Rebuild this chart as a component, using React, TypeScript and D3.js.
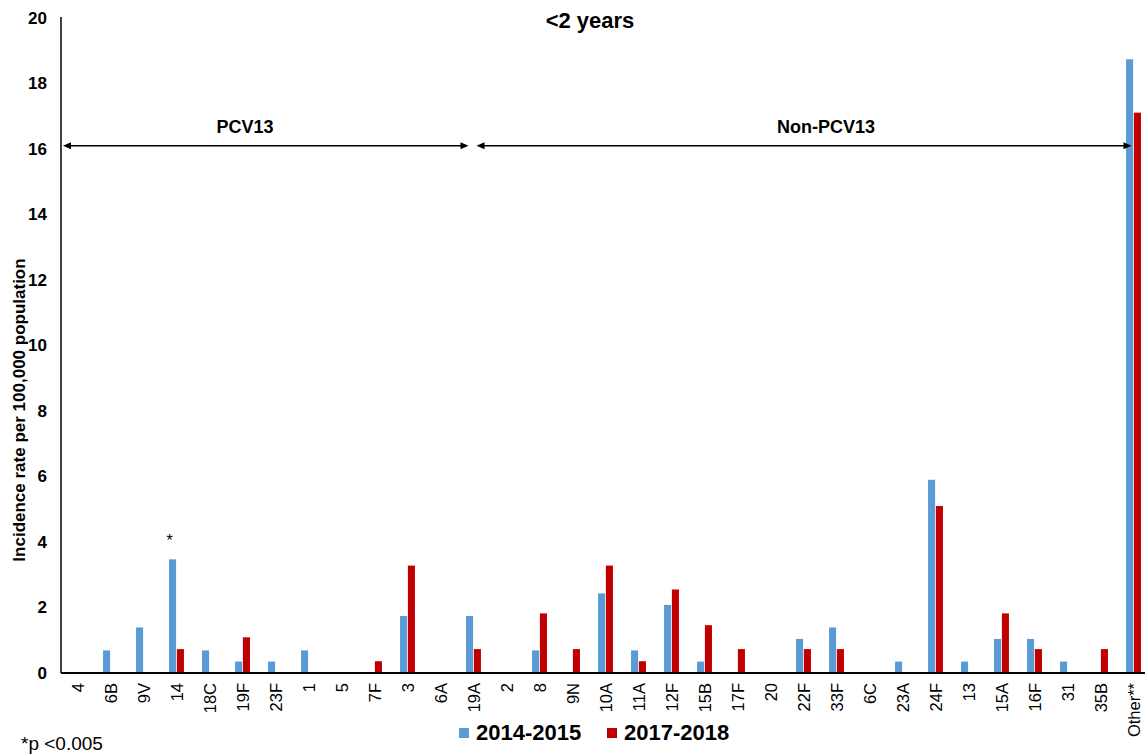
import React from "react"
import * as d3 from "d3"

// serotypes, in chart order
const categories = ["4", "6B", "9V", "14", "18C", "19F", "23F", "1", "5", "7F", "3", "6A", "19A",
    "2", "8", "9N", "10A", "11A", "12F", "15B", "17F", "20", "22F", "33F", "6C", "23A", "24F",
    "13", "15A", "16F", "31", "35B", "Other**"]
const rate2014 = [0, 0.69, 1.39, 3.47, 0.69, 0.35, 0.35, 0.69, 0, 0, 1.74, 0, 1.74,
    0, 0.69, 0, 2.43, 0.69, 2.08, 0.35, 0, 0, 1.04, 1.39, 0, 0.35, 5.9,
    0.35, 1.04, 1.04, 0.35, 0, 18.74]
const rate2017 = [0, 0, 0, 0.73, 0, 1.09, 0, 0, 0, 0.36, 3.28, 0, 0.73,
    0, 1.82, 0.73, 3.28, 0.36, 2.55, 1.46, 0.73, 0, 0.73, 0.73, 0, 0, 5.1,
    0, 1.82, 0.73, 0, 0.73, 17.11]
const seriesNames = ["2014-2015", "2017-2018"]
const seriesColors = ["#5B9BD5", "#C00000"]
const yTicks = [0, 2, 4, 6, 8, 10, 12, 14, 16, 18, 20]
const pcvLast = "19A"
const sigMarks = ["14"]
const arrowLevel = 16.1

const font = "'Liberation Sans', Arial, sans-serif"

const App = () => {
    const width = 1145, height = 754
    const left = 61, axisY = 673

    const x = d3.scaleBand().domain(categories).range([left, left + 33 * categories.length])
        .paddingInner(0.5).paddingOuter(0.25)
    const xs = d3.scaleBand().domain(seriesNames).range([0, x.bandwidth()]).padding(0.1)
    const y = d3.scaleLinear().domain([0, 20]).range([axisY, 18])

    const series = [rate2014, rate2017]
    const center = (c: string) => (x(c) as number) + x.bandwidth() / 2

    const ay = y(arrowLevel)
    const split = center(pcvLast)
    const arrows = [
        {x1: left + 2, x2: split - 5, label: "PCV13", tx: 245},
        {x1: split + 3, x2: center(categories[categories.length - 1]) - 2, label: "Non-PCV13", tx: 826},
    ]
    const head = (px: number, dir: number) =>
        `M${px},${ay} L${px - dir * 8},${ay - 3.5} L${px - dir * 8},${ay + 3.5} Z`

    return (
        <svg width={width} height={height} style={{position: "absolute", left: 0, top: 0}} fontFamily={font}>
            <rect width={width} height={height} fill="#fff" />

            {/* bars */}
            {series.map((vals, si) =>
                categories.map((c, i) => vals[i] > 0 ? (
                    <rect key={si + "-" + c}
                        x={(x(c) as number) + (xs(seriesNames[si]) as number)}
                        y={y(vals[i])}
                        width={xs.bandwidth()}
                        height={axisY - y(vals[i])}
                        fill={seriesColors[si]} />
                ) : null)
            )}

            {/* significance marks */}
            {sigMarks.map(c => (
                <text key={c} x={(x(c) as number) + (xs(seriesNames[0]) as number) + xs.bandwidth() / 2 - 3}
                    y={y(rate2014[categories.indexOf(c)]) - 13} fontSize={16} textAnchor="middle">*</text>
            ))}

            {/* axes */}
            <line x1={left} x2={left} y1={y(20) - 1} y2={axisY} stroke="#000" strokeWidth={1.5} />
            <line x1={left} x2={width} y1={axisY} y2={axisY} stroke="#000" strokeWidth={2} />
            {yTicks.map(t => (
                <text key={t} x={47} y={y(t)} dy="0.35em" textAnchor="end" fontSize={17} fontWeight="bold">{t}</text>
            ))}
            {categories.map(c => (
                <text key={c} transform={`translate(${center(c) + 6},${axisY + 10}) rotate(-90)`}
                    textAnchor="end" fontSize={16.5}>{c}</text>
            ))}
            <text transform="translate(25,410) rotate(-90)" textAnchor="middle" fontSize={17} fontWeight="bold">
                Incidence rate per 100,000 population
            </text>

            {/* title */}
            <text x={590} y={28} textAnchor="middle" fontSize={22} fontWeight="bold">&lt;2 years</text>

            {/* vaccine group arrows */}
            {arrows.map(a => (
                <g key={a.label}>
                    <line x1={a.x1 + 6} x2={a.x2 - 6} y1={ay} y2={ay} stroke="#000" strokeWidth={1.5} />
                    <path d={head(a.x1, -1)} fill="#000" />
                    <path d={head(a.x2, 1)} fill="#000" />
                    <text x={a.tx} y={133} textAnchor="middle" fontSize={18} fontWeight="bold">{a.label}</text>
                </g>
            ))}

            {/* legend */}
            {seriesNames.map((s, i) => (
                <g key={s} transform={`translate(${459 + i * 148},728)`}>
                    <rect width={10} height={10} fill={seriesColors[i]} />
                    <text x={17} y={12} fontSize={22} fontWeight="bold">{s}</text>
                </g>
            ))}

            <text x={21} y={750} fontSize={19}>*p &lt;0.005</text>
        </svg>
    )
}

export default App
